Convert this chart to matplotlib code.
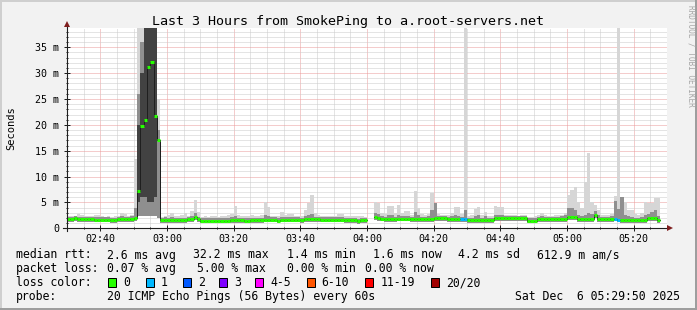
import numpy as np
import matplotlib.pyplot as plt
from matplotlib.lines import Line2D
from matplotlib.patches import Rectangle

W, H = 697, 310
nan = np.nan

# one value per minute, starting 02:30 (ms)
median_ms = [
    1.75, 1.75, 1.9, 1.75, 1.75, 1.75, 1.75, 1.75, 1.7, 1.7,
    1.7, 1.7, 1.7, 1.55, 1.55, 1.8, 1.8, 1.8, 1.8, 1.8,
    2.0, 7.3, 19.8, 21.0, 31.2, 32.2, 21.8, 17.0, 1.6, 1.6,
    1.6, 1.6, 1.55, 1.55, 1.55, 1.55, 1.8, 1.8, 2.2, 1.75,
    1.45, 1.45, 1.45, 1.45, 1.45, 1.45, 1.45, 1.45, 1.45, 1.6,
    1.6, 1.6, 1.6, 1.45, 1.45, 1.6, 1.6, 1.6, 1.6, 1.7,
    1.7, 1.7, 1.7, 1.5, 1.7, 1.7, 1.7, 1.7, 1.7, 1.7,
    1.55, 1.8, 1.8, 1.8, 1.8, 1.8, 1.65, 1.65, 1.65, 1.7,
    1.7, 1.7, 1.7, 1.6, 1.6, 1.6, 1.6, 1.35, 1.6, 1.6,
    nan, nan, 2.2, 2.0, 1.85, 1.8, 1.8, 1.8, 1.8, 1.85,
    1.85, 1.85, 1.85, 1.75, 1.75, 1.75, 1.75, 1.8, 1.8, 1.8,
    2.0, 2.0, 2.0, 2.0, 1.8, 1.8, 1.8, 1.8, 1.75, 1.75,
    1.6, 1.6, 1.6, 1.6, 1.6, 1.6, 1.6, 1.6, 1.9, 1.9,
    1.9, 1.9, 1.9, 1.9, 1.9, 1.9, 1.9, 1.9, 1.5, 1.5,
    1.5, 1.75, 1.75, 1.75, 1.75, 1.75, 1.75, 1.75, 1.8, 1.8,
    2.15, 2.15, 2.15, 1.8, 1.8, 1.8, 1.8, 1.8, 2.6, 1.8,
    1.8, 1.8, 1.8, 1.8, 1.85, 1.7, 1.6, 1.6, 1.6, 1.6,
    1.6, 1.6, 1.6, 1.6, 1.9, 1.9, 1.9, 1.6, nan, nan,
]

smoke_lo = [
    1.25, 1.25, 1.4, 1.25, 1.25, 1.25, 1.25, 1.25, 1.2, 1.2,
    1.2, 1.2, 1.2, 1.05, 1.05, 1.3, 1.3, 1.3, 1.3, 1.3,
    1.5, 2.4, 2.4, 2.4, 2.4, 2.4, 2.4, 2.0, 1.1, 1.1,
    1.1, 1.1, 1.05, 1.05, 1.05, 1.05, 1.3, 1.3, 1.6, 1.25,
    0.95, 0.95, 0.95, 0.95, 0.95, 0.95, 0.95, 0.95, 0.95, 1.1,
    1.1, 1.1, 1.1, 0.95, 0.95, 1.1, 1.1, 1.1, 1.1, 1.2,
    1.2, 1.2, 1.2, 1.0, 1.2, 1.2, 1.2, 1.2, 1.2, 1.2,
    1.05, 1.3, 1.3, 1.3, 1.3, 1.3, 1.15, 1.15, 1.15, 1.2,
    1.2, 1.2, 1.2, 1.1, 1.1, 1.1, 1.1, 0.9, 1.1, 1.1,
    nan, nan, 1.7, 1.5, 1.35, 1.3, 1.3, 1.3, 1.3, 1.35,
    1.35, 1.35, 1.35, 1.25, 1.25, 1.25, 1.25, 1.3, 1.3, 1.3,
    1.5, 1.5, 1.5, 1.5, 1.3, 1.3, 1.3, 1.3, 1.25, 1.25,
    1.1, 1.1, 1.1, 1.1, 1.1, 1.1, 1.1, 1.1, 1.4, 1.4,
    1.4, 1.4, 1.4, 1.4, 1.4, 1.4, 1.4, 1.4, 1.0, 1.0,
    1.0, 1.25, 1.25, 1.25, 1.25, 1.25, 1.25, 1.25, 1.3, 1.3,
    1.6, 1.6, 1.6, 1.3, 1.3, 1.3, 1.3, 1.3, 1.9, 1.3,
    1.3, 1.3, 1.3, 1.3, 1.35, 1.2, 1.1, 1.1, 1.1, 1.1,
    1.1, 1.1, 1.1, 1.1, 1.4, 1.4, 1.4, 1.1, nan, nan,
]

smoke_hi = [
    2.2, 2.2, 2.3, 2.2, 2.2, 2.2, 2.2, 2.2, 2.15, 2.15,
    2.15, 2.15, 2.15, 2.0, 2.0, 2.25, 2.3, 2.25, 2.25, 2.3,
    4.0, 26, 36, 45, 45, 45, 45, 19, 2.05, 2.1,
    2.05, 2.1, 2.0, 2.0, 2.0, 2.05, 2.25, 2.3, 3.0, 2.2,
    1.9, 1.9, 1.9, 1.95, 1.9, 1.9, 1.9, 1.9, 1.95, 2.1,
    2.4, 2.05, 2.05, 1.9, 1.9, 2.05, 2.05, 2.05, 2.05, 2.6,
    2.3, 2.15, 2.15, 1.95, 2.2, 2.15, 2.2, 2.2, 2.15, 2.15,
    2.0, 2.4, 2.6, 2.8, 2.25, 2.25, 2.1, 2.1, 2.1, 2.15,
    2.15, 2.2, 2.2, 2.05, 2.05, 2.05, 2.05, 1.8, 2.05, 2.05,
    nan, nan, 2.9, 2.7, 2.3, 2.25, 2.6, 2.6, 2.25, 2.6,
    2.3, 2.4, 2.4, 2.2, 3.2, 2.6, 2.2, 2.25, 2.3, 3.5,
    4.8, 2.45, 2.45, 2.45, 2.25, 2.4, 2.6, 2.3, 2.2, 3.5,
    2.05, 2.05, 2.3, 2.6, 2.05, 2.3, 2.05, 2.05, 2.5, 2.6,
    2.5, 2.35, 2.35, 2.35, 2.35, 2.35, 2.35, 2.4, 1.95, 1.95,
    1.95, 2.2, 2.4, 2.2, 2.2, 2.2, 2.2, 2.2, 2.3, 2.6,
    3.9, 3.9, 3.6, 2.6, 2.3, 2.6, 3.0, 2.8, 3.3, 2.6,
    2.25, 2.25, 2.25, 2.3, 5.3, 3.8, 6.0, 2.6, 2.3, 2.1,
    2.05, 2.05, 2.2, 2.6, 2.8, 3.2, 3.5, 2.4, nan, nan,
]

ping_max = [
    2.3, 2.3, 2.4, 2.7, 2.6, 2.3, 2.3, 2.4, 2.5, 2.5,
    2.3, 2.2, 2.3, 2.2, 2.3, 2.4, 2.9, 2.8, 2.4, 2.5,
    13.4, 45, 45, 45, 45, 45, 45, 25, 2.2, 2.3,
    2.6, 2.9, 2.4, 2.3, 2.5, 2.9, 2.4, 3.3, 5.5, 3.2,
    2.2, 2.3, 2.2, 2.4, 2.3, 2.2, 2.4, 2.3, 2.5, 2.8,
    4.3, 2.6, 2.4, 2.3, 2.4, 2.5, 2.4, 2.3, 2.5, 5.0,
    4.2, 2.4, 2.4, 2.3, 3.2, 2.5, 2.7, 2.7, 2.4, 2.3,
    2.4, 3.5, 4.8, 6.4, 3.0, 2.5, 2.4, 2.4, 2.4, 2.4,
    2.4, 2.8, 2.8, 2.4, 2.3, 2.3, 2.3, 2.4, 2.3, 2.2,
    nan, nan, 5.0, 4.9, 3.0, 2.8, 4.3, 4.3, 2.9, 4.6,
    3.0, 3.3, 3.3, 2.6, 7.2, 4.0, 2.8, 2.6, 2.7, 6.8,
    4.8, 2.8, 2.6, 2.5, 2.6, 3.0, 4.2, 4.1, 2.8, 45,
    2.4, 2.5, 3.8, 4.2, 2.6, 3.1, 2.4, 2.4, 4.3, 4.2,
    4.2, 2.6, 2.5, 2.5, 2.5, 2.4, 2.5, 2.6, 2.2, 2.2,
    2.3, 2.6, 3.0, 2.6, 2.4, 2.4, 2.5, 2.5, 2.6, 3.0,
    6.5, 7.5, 8.0, 5.0, 4.0, 9.0, 14.5, 5.1, 4.5, 3.5,
    2.6, 2.6, 2.6, 2.8, 6.2, 45, 6.0, 5.1, 3.6, 3.6,
    2.8, 2.6, 3.0, 5.1, 4.8, 4.8, 5.8, 5.8, nan, nan,
]

# darkest smoke inside the 02:51-02:57 burst
spike_minutes = [21, 22, 23, 24, 25, 26]
dense_lo = [5, 6, 6, 5, 5, 6]
dense_hi = [20, 30, 45, 45, 45, 45]

loss_minutes = [118, 119, 164, 165]

x_ticks = [10, 30, 50, 70, 90, 110, 130, 150, 170]
x_labels = ['02:40', '03:00', '03:20', '03:40', '04:00', '04:20', '04:40', '05:00', '05:20']
y_ticks = [0, 5, 10, 15, 20, 25, 30, 35]
y_labels = ['0', '5 m', '10 m', '15 m', '20 m', '25 m', '30 m', '35 m']

title = 'Last 3 Hours from SmokePing to a.root-servers.net'
rtt_row = ['median rtt:', '2.6 ms avg', '32.2 ms max', '1.4 ms min', '1.6 ms now', '4.2 ms sd', '612.9 m am/s']
loss_row = ['packet loss:', '0.07 % avg', '5.00 % max', '0.00 % min', '0.00 % now']
loss_names = ['0', '1', '2', '3', '4-5', '6-10', '11-19', '20/20']
loss_colors = ['#26ff00', '#00b8ff', '#0059ff', '#7e00ff', '#ff00ff', '#ff5500', '#ff0000', '#a10000']
probe_text = '20 ICMP Echo Pings (56 Bytes) every 60s'
stamp = 'Sat Dec  6 05:29:50 2025'


def fx(x):
    return x / W


def fy(y):
    return 1 - y / H


plt.rcParams['font.family'] = 'DejaVu Sans Mono'
fig = plt.figure(figsize=(W / 100, H / 100), dpi=100, facecolor='#f2f2f2')
ax = fig.add_axes([fx(67), fy(228.3), 600 / W, 200.3 / H])
ax.set_facecolor('white')

m = np.arange(len(median_ms))
med = np.array(median_ms)
lo = np.array(smoke_lo)
hi = np.array(smoke_hi)
top = np.array(ping_max)

ax.bar(m, top - lo, bottom=lo, width=1, align='edge', color='#d6d6d6', lw=0, zorder=2)
ax.bar(m, hi - lo, bottom=lo, width=1, align='edge', color='#8f8f8f', lw=0, zorder=3)
ax.bar(spike_minutes, np.subtract(dense_hi, dense_lo), bottom=dense_lo, width=1,
       align='edge', color='#424242', lw=0, zorder=4)

ax.plot(np.arange(len(med) + 1), np.append(med, med[-1]), drawstyle='steps-post',
        color='#1f1f1f', lw=0.72, zorder=5)
seg_colors = [loss_colors[1] if i in loss_minutes else loss_colors[0] for i in m]
ax.hlines(med, m, m + 1, colors=seg_colors, lw=2.2, zorder=6)

ax.set_xlim(0, 180)
ax.set_ylim(0, 38.73)
ax.set_xticks(x_ticks)
ax.set_xticklabels(x_labels)
ax.set_xticks(np.arange(5, 180, 5), minor=True)
ax.set_yticks(y_ticks)
ax.set_yticklabels(y_labels)
ax.set_yticks(np.arange(1, 39), minor=True)
ax.set_axisbelow(True)
ax.grid(which='minor', color='#cbcbcb', lw=0.72, ls=(0, (1, 1)))
ax.grid(which='major', color='#eb9a9a', lw=0.72, ls=(0, (1, 1)))
ax.tick_params(which='major', direction='inout', length=4, width=0.72, color='#1f1f1f', labelsize=7.2)
ax.tick_params(which='minor', direction='inout', length=2, width=0.72, color='#1f1f1f')
ax.tick_params(axis='y', which='major', pad=3.6)
ax.tick_params(axis='x', which='major', pad=2.2)
for s in ax.spines.values():
    s.set_visible(False)

# axes with arrows
fig.add_artist(Line2D([fx(63), fx(670)], [fy(228.3)] * 2, color='#1f1f1f', lw=0.8))
fig.add_artist(Line2D([fx(67)] * 2, [fy(231), fy(24)], color='#1f1f1f', lw=0.8))
fig.add_artist(Line2D([fx(670)], [fy(228.3)], marker='>', ms=4, color='#801f1f', mew=0))
fig.add_artist(Line2D([fx(67)], [fy(24)], marker='^', ms=4, color='#801f1f', mew=0))

# 3d frame
fig.add_artist(Rectangle((0, fy(2)), 1, 2 / H, transform=fig.transFigure, color='#cfcfcf', lw=0))
fig.add_artist(Rectangle((0, 0), 2 / W, 1, transform=fig.transFigure, color='#cfcfcf', lw=0))
fig.add_artist(Rectangle((0, 0), 1, 2 / H, transform=fig.transFigure, color='#9e9e9e', lw=0))
fig.add_artist(Rectangle((fx(695), 0), 2 / W, 1, transform=fig.transFigure, color='#9e9e9e', lw=0))

fig.text(fx(348.5), fy(24.5), title, ha='center', va='baseline', fontsize=9.6)
fig.text(fx(11), fy(128.5), 'Seconds', rotation=90, ha='center', va='center', fontsize=7.5)
fig.text(fx(691), fy(5), 'RRDTOOL / TOBI OETIKER', rotation=270, ha='center', va='top',
         fontsize=5.6, color='#a6a6a6')

leg_size = 8.3
for txt, x in zip(rtt_row, [16, 107.3, 193.3, 286.7, 372.7, 458.3, 536.7]):
    fig.text(fx(x), fy(258.5), txt, va='baseline', fontsize=leg_size)
for txt, x in zip(loss_row, [16, 107.3, 196.7, 286.7, 365]):
    fig.text(fx(x), fy(272.3), txt, va='baseline', fontsize=leg_size)
fig.text(fx(16), fy(286), 'loss color:', va='baseline', fontsize=leg_size)
box_x = [108.3, 145.7, 182.7, 219, 255.3, 306.7, 365.3, 430.7]
for name, col, x in zip(loss_names, loss_colors, box_x):
    fig.add_artist(Rectangle((fx(x), fy(286.5)), 8 / W, 8.5 / H, transform=fig.transFigure,
                             facecolor=col, edgecolor='black', lw=0.72))
    fig.text(fx(x + 15), fy(286), name, va='baseline', fontsize=leg_size)
fig.text(fx(16), fy(300), 'probe:', va='baseline', fontsize=leg_size)
fig.text(fx(107.3), fy(300), probe_text, va='baseline', fontsize=leg_size)
fig.text(fx(680), fy(300), stamp, ha='right', va='baseline', fontsize=leg_size)

fig.savefig('out.png', dpi=100, facecolor=fig.get_facecolor())
